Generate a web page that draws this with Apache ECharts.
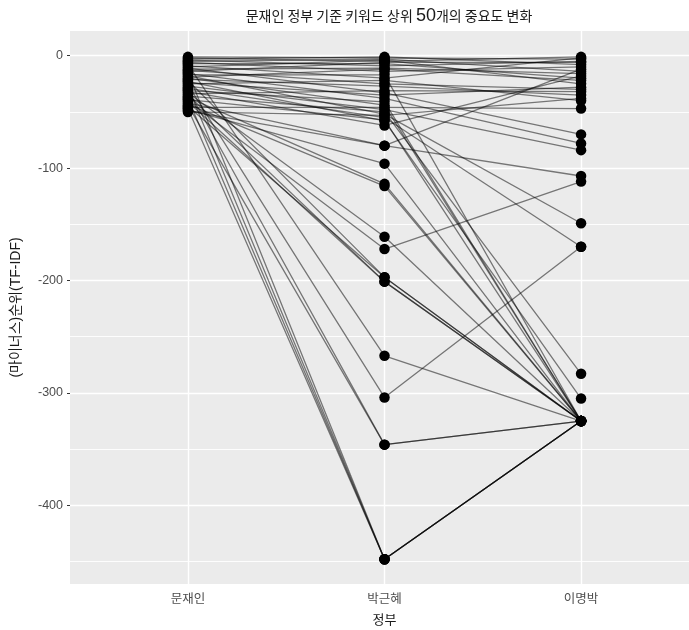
<!DOCTYPE html>
<html>
<head>
<meta charset="utf-8">
<script src="https://cdn.jsdelivr.net/npm/echarts@6/dist/echarts.min.js"></script>
<style>html,body{margin:0;padding:0;background:#fff;}#c{width:689px;height:630px;}</style>
</head>
<body>
<div id="c"></div>
<script>
const categories = ['문재인', '박근혜', '이명박'];
const moonRank = [-1,-2,-3,-4,-5,-6,-7,-8,-9,-10,-11,-12,-13,-14,-15,-16,-17,-18,-19,-20,-21,-22,-23,-24,-25,-26,-27,-28,-29,-30,-31,-32,-33,-34,-35,-36,-37,-38,-39,-40,-41,-42,-43,-44,-45,-46,-47,-48,-49,-50];
const parkRank = [-2,-5,-1,-9,-3,-14,-7,-267,-20,-4,-33,-11,-25,-6,-448,-38,-17,-52,-12,-44,-27,-197,-58,-35,-22,-304,-48,-448,-55,-346,-41,-62,-161,-31,-201,-50,-114,-448,-57,-172,-201,-80,-116,-346,-197,-46,-448,-96,-80,-53];
const leeRank = [-3,-1,-8,-5,-14,-10,-20,-325,-2,-25,-70,-16,-30,-6,-325,-78,-325,-149,-22,-325,-35,-325,-305,-28,-40,-170,-84,-325,-170,-325,-325,-18,-325,-32,-325,-283,-325,-325,-325,-112,-325,-12,-325,-325,-325,-47,-325,-325,-107,-38];
const yMajor = [0, -100, -200, -300, -400];
const yMinor = [-50, -150, -250, -350, -450];

const fontLatin = "'Liberation Sans', 'Noto Sans CJK KR', sans-serif";
const chart = echarts.init(document.getElementById('c'), null, {renderer: 'canvas'});

const series = [];
const gridMarks = [];
yMajor.forEach(v => gridMarks.push({yAxis: v, lineStyle: {width: 1.4}}));
yMinor.forEach(v => gridMarks.push({yAxis: v, lineStyle: {width: 0.9}}));
[1, 2, 3].forEach(v => gridMarks.push({xAxis: v, lineStyle: {width: 1.4}}));
series.push({
  type: 'line', z: 1, silent: true, showSymbol: false, symbol: 'none',
  data: [[1, moonRank[0]]], lineStyle: {opacity: 0},
  markLine: {
    silent: true, z: 1, symbol: ['none', 'none'], label: {show: false},
    lineStyle: {color: '#ffffff', type: 'solid', opacity: 1},
    data: gridMarks
  }
});
const pts = [];
for (let i = 0; i < moonRank.length; i++) {
  series.push({
    type: 'line', z: 2, silent: true, showSymbol: false, symbol: 'none',
    data: [[1, moonRank[i]], [2, parkRank[i]], [3, leeRank[i]]],
    lineStyle: {color: 'rgba(0,0,0,0.5)', width: 1.3}
  });
  pts.push([1, moonRank[i]], [2, parkRank[i]], [3, leeRank[i]]);
}
series.push({
  type: 'scatter', z: 10, silent: true, symbol: 'circle', symbolSize: 10.5,
  itemStyle: {color: '#000000', opacity: 1}, data: pts
});

chart.setOption({
  animation: false,
  backgroundColor: '#ffffff',
  title: {
    text: '문재인 정부 기준 키워드 상위 {n|50}개의 중요도 변화',
    left: 384, top: 2, textAlign: 'center',
    textStyle: {
      fontFamily: "'Noto Sans CJK KR', sans-serif", fontSize: 14, fontWeight: 'normal', color: '#1a1a1a',
      rich: {n: {fontFamily: "'Liberation Sans', sans-serif", fontSize: 18, color: '#1a1a1a'}}
    }
  },
  grid: {left: 70, top: 31, width: 629, height: 553, show: true, backgroundColor: '#EBEBEB', borderWidth: 0, containLabel: false, outerBoundsMode: 'none'},
  xAxis: {
    type: 'value', min: 0.4, max: 3.6,
    name: '정부', nameLocation: 'middle', nameGap: 29,
    nameTextStyle: {fontFamily: "'Noto Sans CJK KR', sans-serif", fontSize: 13, color: '#1a1a1a'},
    axisLine: {show: false},
    axisTick: {show: true, length: 3, customValues: [1, 2, 3], lineStyle: {color: '#333333', width: 1}},
    axisLabel: {
      customValues: [1, 2, 3], margin: 8,
      formatter: v => categories[Math.round(v) - 1] || '',
      fontFamily: "'Noto Sans CJK KR', sans-serif", fontSize: 12.5, color: '#4D4D4D'
    },
    splitLine: {show: false}
  },
  yAxis: {
    type: 'value', min: -470, max: 22,
    name: '(마이너스)순위(TF-IDF)', nameLocation: 'middle', nameGap: 47, nameRotate: 90,
    nameTextStyle: {fontFamily: fontLatin, fontSize: 14, color: '#1a1a1a'},
    axisLine: {show: false},
    axisTick: {show: true, length: 3, customValues: yMajor, lineStyle: {color: '#333333', width: 1}},
    axisLabel: {
      customValues: yMajor, margin: 7,
      formatter: v => String(v),
      fontFamily: fontLatin, fontSize: 12.5, color: '#4D4D4D'
    },
    splitLine: {show: false}
  },
  series: series
});
</script>
</body>
</html>
